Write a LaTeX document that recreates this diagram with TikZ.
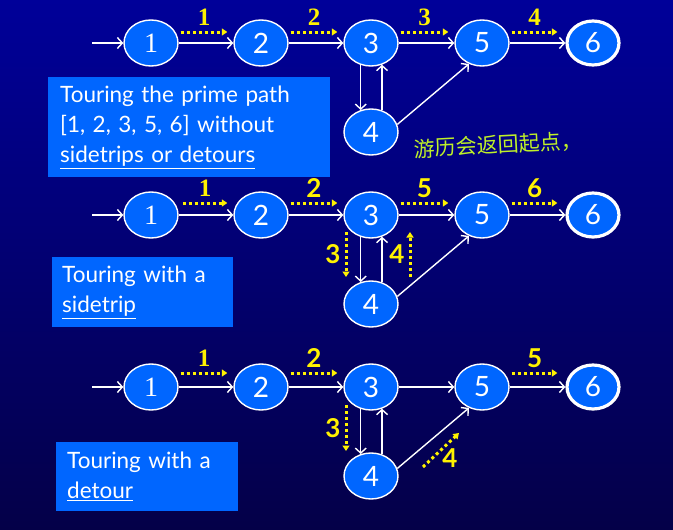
\documentclass[tikz,border=0pt]{standalone}
\usepackage{fontspec}
\setmainfont{Lato}
\newfontfamily\numserif{Liberation Serif}
\newfontfamily\cjk{Noto Sans CJK SC}
\usetikzlibrary{shapes.geometric,arrows.meta,calc}
\definecolor{navytop}{RGB}{0,0,153}
\definecolor{navybot}{RGB}{4,0,72}
\definecolor{nodeblue}{RGB}{0,102,255}
\definecolor{inkgreen}{RGB}{190,240,40}

\begin{document}
\begin{tikzpicture}[x=1pt,y=-1pt,
  state/.style={ellipse,draw=white,line width=1.4pt,fill=nodeblue,
    minimum width=54pt,minimum height=46pt,inner sep=0pt,text=white,
    font=\fontsize{28}{28}\selectfont},
  final/.style={state,line width=3.2pt,minimum width=52pt,minimum height=44pt},
  edge/.style={draw=white,line width=1.4pt,
    -{Straight Barb[length=5pt,width=11pt,line width=1.4pt]}},
  trail/.style={draw=yellow,line width=3pt,dash pattern=on 3pt off 3pt,
    -{Triangle[length=5.5pt,width=7pt]}},
  lab/.style={text=yellow,inner sep=0pt,font=\bfseries\fontsize{26}{26}\selectfont},
  slab/.style={lab,font=\numserif\bfseries\fontsize{25}{25}\selectfont},
  note/.style={fill=nodeblue,text=white,align=left,anchor=north west,
    font=\fontsize{22.5}{30}\selectfont},
]
% background
\fill[top color=navytop,bottom color=navybot] (0,0) rectangle (673,530);
\useasboundingbox (0,0) rectangle (673,530);

% the same graph, three times
\foreach \r/\yy in {1/43,2/215,3/387}{
  \node[state] (p\r-1) at (151,\yy) {\numserif 1};
  \node[state] (p\r-2) at (261,\yy) {2};
  \node[state] (p\r-3) at (371,\yy) {3};
  \node[state] (p\r-5) at (482,\yy) {5};
  \node[final] (p\r-6) at (593,\yy) {6};
  \node[state] (p\r-4) at (371,\yy+89) {4};
  \coordinate (in\r) at (92,\yy);
  \draw[edge] (in\r) -- (p\r-1);
  \draw[edge] (p\r-1) -- (p\r-2);
  \draw[edge] (p\r-2) -- (p\r-3);
  \draw[edge] (p\r-3) -- (p\r-5);
  \draw[edge] (p\r-5) -- (p\r-6);
  \draw[edge] (p\r-3.245) -- (p\r-4.115);
  \draw[edge] (p\r-4.63) -- (p\r-3.297);
  \draw[edge] (p\r-4.16) -- (p\r-5.238);
}

% prime path tour
\draw[trail] ($(p1-1.east)+(2,-11)$) -- ($(p1-2.west)+(-6,-11)$) node[slab,midway,yshift=15pt]{1};
\draw[trail] ($(p1-2.east)+(2,-11)$) -- ($(p1-3.west)+(-6,-11)$) node[slab,midway,yshift=15pt]{2};
\draw[trail] ($(p1-3.east)+(2,-11)$) -- ($(p1-5.west)+(-6,-11)$) node[slab,midway,yshift=15pt]{3};
\draw[trail] ($(p1-5.east)+(2,-11)$) -- ($(p1-6.west)+(-8,-11)$) node[slab,midway,yshift=15pt]{4};

% sidetrip tour
\draw[trail] ($(p2-1.east)+(4,-12)$) -- ($(p2-2.west)+(-6,-12)$) node[slab,midway,yshift=15pt]{1};
\draw[trail] ($(p2-2.east)+(2,-12)$) -- ($(p2-3.west)+(-6,-12)$) node[lab,midway,yshift=15pt]{2};
\draw[trail] ($(p2-3.center)+(-25,17)$) -- ($(p2-4.center)+(-25,-27)$) node[lab,midway,xshift=-13pt]{3};
\draw[trail] ($(p2-4.center)+(39,-27)$) -- ($(p2-3.center)+(39,17)$) node[lab,midway,xshift=-13pt]{4};
\draw[trail] ($(p2-3.east)+(2,-12)$) -- ($(p2-5.west)+(-6,-12)$) node[lab,midway,yshift=15pt]{5};
\draw[trail] ($(p2-5.east)+(2,-12)$) -- ($(p2-6.west)+(-8,-12)$) node[lab,midway,yshift=15pt]{6};

% detour tour
\draw[trail] ($(p3-1.east)+(2,-14)$) -- ($(p3-2.west)+(-6,-14)$) node[slab,midway,yshift=15pt]{1};
\draw[trail] ($(p3-2.east)+(2,-14)$) -- ($(p3-3.west)+(-6,-14)$) node[lab,midway,yshift=15pt]{2};
\draw[trail] ($(p3-3.center)+(-25,18)$) -- ($(p3-4.center)+(-25,-25)$) node[lab,midway,xshift=-13pt]{3};
\draw[trail] ($(p3-4.center)+(52,-9)$) -- ($(p3-5.center)+(-23,46)$) node[lab,midway,xshift=9pt,yshift=-8pt]{4};
\draw[trail] ($(p3-5.east)+(2,-14)$) -- ($(p3-6.west)+(-8,-14)$) node[lab,midway,yshift=15pt]{5};

% captions
\node[note,inner xsep=12pt,text width=258pt,minimum height=100pt] (t1) at (48,77)
  {Touring the prime path\\ {[}1, 2, 3, 5, 6] without\\ \underline{sidetrips or detours}};
\node[note,inner xsep=10pt,text width=161pt,minimum height=70pt] (t2) at (52,257)
  {Touring with a\\ \underline{sidetrip}};
\node[note,inner xsep=11pt,text width=160pt,minimum height=69pt] (t3) at (56,442)
  {Touring with a\\ \underline{detour}};

% handwritten remark
\node[text=inkgreen,rotate=3,font=\cjk\fontsize{21}{21}\selectfont] (hand) at (498,145)
  {游历会返回起点，};
\end{tikzpicture}
\end{document}
